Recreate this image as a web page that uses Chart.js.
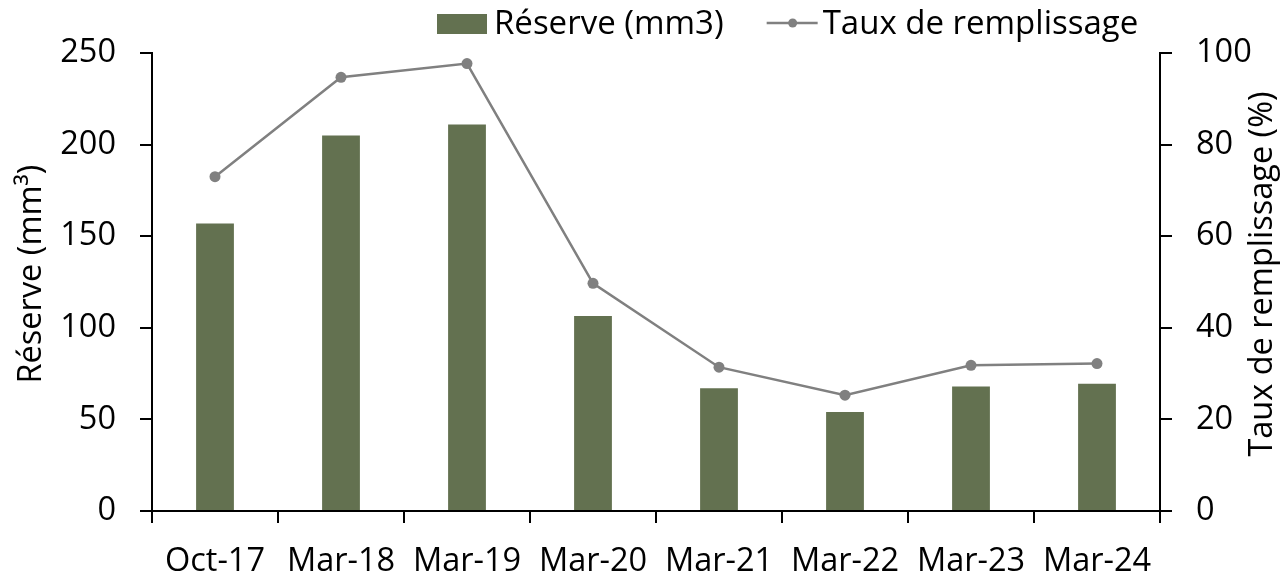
<!DOCTYPE html>
<html>
<head>
<meta charset="utf-8">
<script src="https://cdn.jsdelivr.net/npm/chart.js@4.4.1/dist/chart.umd.min.js"></script>
<style>
  html, body { margin: 0; padding: 0; background: #fff; }
</style>
</head>
<body>
<canvas id="chart" width="1286" height="579"></canvas>
<script>
// Values
const dates = ['Oct-17', 'Mar-18', 'Mar-19', 'Mar-20', 'Mar-21', 'Mar-22', 'Mar-23', 'Mar-24'];
const reserve = [157, 205, 211, 106.5, 67, 54, 68, 69.5];        // mm3, left axis
const remplissage = [73, 94.7, 97.7, 49.7, 31.4, 25.3, 31.8, 32.2]; // %, right axis
const leftTitle = 'Réserve (mm³)';
const rightTitle = 'Taux de remplissage (%)';

const FONT = '"Open Sans", Lato, sans-serif';
const BAR_COLOR = '#637150';
const LINE_COLOR = '#808080';

const axisGrid = {
    drawOnChartArea: false,
    drawTicks: true,
    tickLength: 12,
    color: '#000',
    lineWidth: 2
};
const axisBorder = { color: '#000', width: 2 };
const tickFont = { family: FONT, size: 32.5 };

// Legend drawn by hand: bar swatch and line-with-dot sample, as in the picture
const topLegend = {
    id: 'topLegend',
    afterDraw(chart) {
        const ctx = chart.ctx;
        const ds = chart.data.datasets;
        const barDs = ds.find(d => d.type === 'bar');
        const lineDs = ds.find(d => d.type === 'line');
        ctx.save();
        ctx.font = '33px ' + FONT;
        ctx.textBaseline = 'middle';
        let x = 437;
        const cy = 24;
        ctx.fillStyle = BAR_COLOR;
        ctx.fillRect(x, cy - 10, 50, 20);
        x += 57;
        ctx.fillStyle = '#000';
        ctx.fillText(barDs.label, x, cy + 1);
        x += ctx.measureText(barDs.label).width + 43;
        ctx.strokeStyle = LINE_COLOR;
        ctx.lineWidth = 2.5;
        ctx.beginPath();
        ctx.moveTo(x, cy - 1);
        ctx.lineTo(x + 51, cy - 1);
        ctx.stroke();
        ctx.fillStyle = LINE_COLOR;
        ctx.beginPath();
        ctx.arc(x + 26, cy - 1, 4.5, 0, Math.PI * 2);
        ctx.fill();
        x += 56;
        ctx.fillStyle = '#000';
        ctx.fillText(lineDs.label, x, cy + 1);
        ctx.restore();
    }
};

// Both axis titles read bottom-to-top, so they are drawn here
const axisTitles = {
    id: 'axisTitles',
    afterDraw(chart) {
        const ctx = chart.ctx;
        const a = chart.chartArea;
        const cy = (a.top + a.bottom) / 2 - 8;
        ctx.save();
        ctx.font = '32.5px ' + FONT;
        ctx.fillStyle = '#000';
        ctx.textAlign = 'center';
        ctx.textBaseline = 'middle';
        [[32, leftTitle], [1263, rightTitle]].forEach(([x, text]) => {
            ctx.save();
            ctx.translate(x, cy);
            ctx.rotate(-Math.PI / 2);
            ctx.fillText(text, 0, 0);
            ctx.restore();
        });
        ctx.restore();
    }
};

new Chart(document.getElementById('chart').getContext('2d'), {
    type: 'bar',
    data: {
        labels: dates,
        datasets: [
            {
                type: 'line',
                label: 'Taux de remplissage',
                data: remplissage,
                yAxisID: 'y2',
                borderColor: LINE_COLOR,
                borderWidth: 2.5,
                pointRadius: 5.5,
                pointBackgroundColor: LINE_COLOR,
                pointBorderWidth: 0,
                tension: 0,
                order: 0
            },
            {
                type: 'bar',
                label: 'Réserve (mm3)',
                data: reserve,
                yAxisID: 'y',
                backgroundColor: BAR_COLOR,
                categoryPercentage: 1,
                barPercentage: 0.3,
                order: 1
            }
        ]
    },
    options: {
        responsive: false,
        animation: false,
        layout: { padding: { top: 53, left: 0, right: 0, bottom: 0 } },
        scales: {
            x: {
                grid: axisGrid,
                border: axisBorder,
                ticks: { color: '#000', font: tickFont, padding: 19, maxRotation: 0, autoSkip: false },
                afterFit: (scale) => { scale.height = 68; }
            },
            y: {
                position: 'left',
                min: 0, max: 250,
                grid: axisGrid,
                border: axisBorder,
                ticks: { stepSize: 50, color: '#000', font: tickFont, padding: 24 },
                afterFit: (scale) => { scale.width = 152; }
            },
            y2: {
                position: 'right',
                min: 0, max: 100,
                grid: axisGrid,
                border: axisBorder,
                ticks: { stepSize: 20, color: '#000', font: tickFont, padding: 24 },
                afterFit: (scale) => { scale.width = 126; }
            }
        },
        plugins: {
            legend: { display: false },
            tooltip: { enabled: false }
        }
    },
    plugins: [topLegend, axisTitles]
});
</script>
</body>
</html>
